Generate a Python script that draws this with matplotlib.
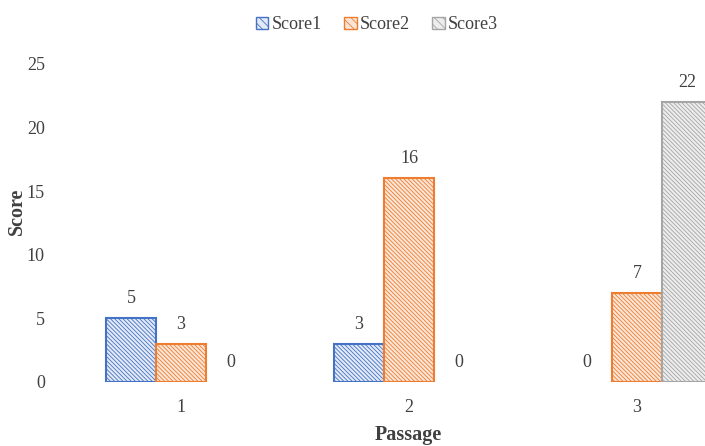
import matplotlib
matplotlib.use("Agg")
import matplotlib.pyplot as plt
from matplotlib.patches import Patch
import numpy as np

categories = ["1", "2", "3"]
score1 = [5, 3, 0]
score2 = [3, 16, 7]
score3 = [0, 0, 22]
series_names = ["Score1", "Score2", "Score3"]
y_ticks = [0, 5, 10, 15, 20, 25]

plt.rcParams['font.family'] = ['Liberation Serif', 'DejaVu Serif']
plt.rcParams['hatch.linewidth'] = 0.6

W, H = 705, 446
fig = plt.figure(figsize=(W / 100, H / 100), dpi=100)
left_px, right_px = 67, 705
bottom_px, top_px = 382, 64
ax = fig.add_axes([left_px / W, 1 - bottom_px / H,
                   (right_px - left_px) / W, (bottom_px - top_px) / H])

edge_colors = ["#4472C4", "#ED7D31", "#A5A5A5"]
face_colors = ["#E3EAF6", "#FBE5D6", "#EDEDED"]
hatch = '\\' * 8
x = np.arange(len(categories))
bw = 50 / 228
series = [score1, score2, score3]
handles = []
for i, (vals, name) in enumerate(zip(series, series_names)):
    bars = ax.bar(x + (i - 1) * bw, vals, bw,
                  facecolor=face_colors[i], edgecolor=edge_colors[i],
                  linewidth=1.5, hatch=hatch)
    for b, v in zip(bars, vals):
        if v == 0:
            b.set_linewidth(0)
            b.set_hatch(None)
    ax.bar_label(bars, padding=8, fontsize=13, color='#404040')
    handles.append(Patch(facecolor=face_colors[i], edgecolor=edge_colors[i],
                         linewidth=1.0, hatch='\\' * 4, label=name))

ax.set_xlim(-0.5, (705 - 181) / 228)
ax.set_ylim(0, 25)
ax.set_yticks(y_ticks)
ax.set_xticks(x)
ax.set_xticklabels(categories)
ax.tick_params(axis='both', length=0, labelsize=13, labelcolor='#404040')
ax.tick_params(axis='y', pad=16)
ax.tick_params(axis='x', pad=12)
for s in ax.spines.values():
    s.set_visible(False)

ax.set_ylabel("Score", fontsize=14.5, fontweight='bold', color='#404040')
ax.set_xlabel("Passage", fontsize=14.5, fontweight='bold', color='#404040')
ax.yaxis.set_label_coords(-(67 - 27) / 638, (382 - 211) / 318)
ax.xaxis.set_label_coords((408 - 67) / 638, -(425 - 382) / 318)

fig.legend(handles=handles, loc='upper center', bbox_to_anchor=(377 / W, 1 - 0 / H), ncol=3,
           frameon=False, fontsize=13, handlelength=0.7, handleheight=0.7,
           handletextpad=0.2, columnspacing=1.2, labelcolor='#404040')

fig.savefig("out.png", dpi=100)
